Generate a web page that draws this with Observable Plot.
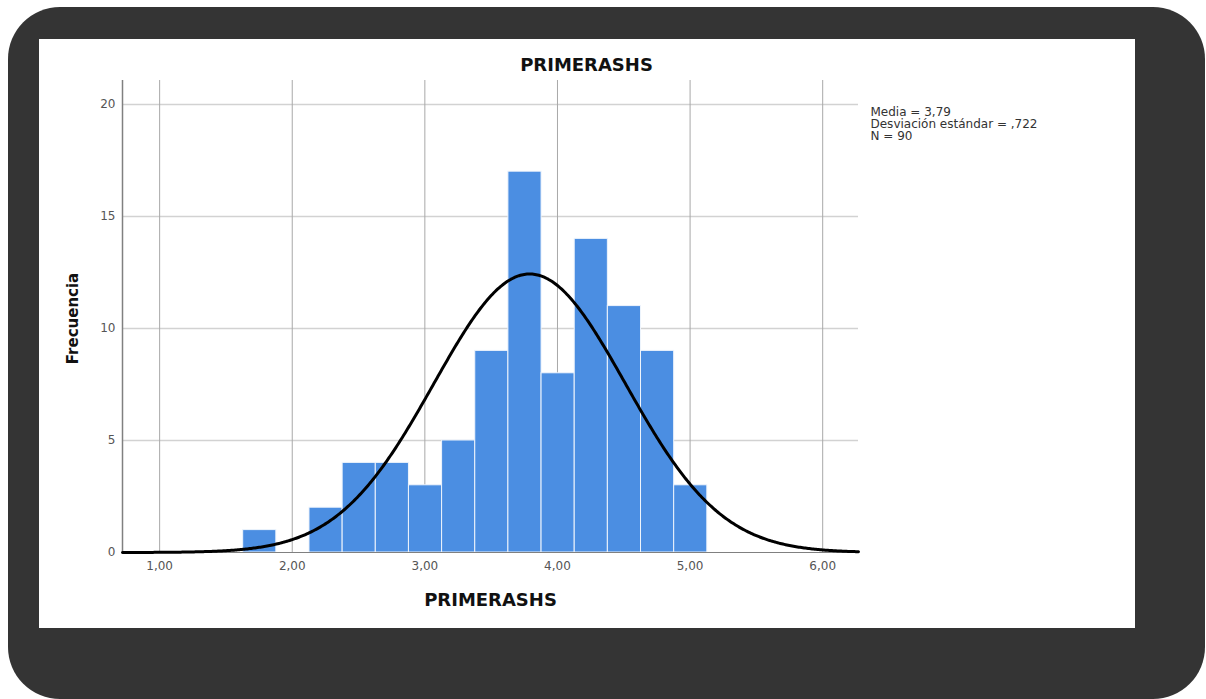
<!DOCTYPE html>
<html>
<head>
<meta charset="utf-8">
<script src="https://cdn.jsdelivr.net/npm/d3@7"></script>
<script src="https://cdn.jsdelivr.net/npm/@observablehq/plot@0.6"></script>
<style>
  html, body { margin: 0; padding: 0; background: #ffffff; }
  #frame { position: absolute; left: 8px; top: 7px; width: 1197px; height: 692px; background: #343434; border-radius: 52px; }
  #panel { position: absolute; left: 39px; top: 39px; width: 1096px; height: 589px; background: #ffffff; }
  #panel svg { position: absolute; left: 0; top: 0; overflow: visible; }
</style>
</head>
<body>
<div id="frame"></div>
<div id="panel"></div>
<script>
// ---- data ----
const chartTitle = "PRIMERASHS";
const xLabel = "PRIMERASHS";
const yLabel = "Frecuencia";
const binLeft = [1.63, 1.88, 2.13, 2.38, 2.63, 2.88, 3.13, 3.38, 3.63, 3.88, 4.13, 4.38, 4.63, 4.88];
const binCount = [1, 0, 2, 4, 4, 3, 5, 9, 17, 8, 14, 11, 9, 3];
const binWidth = 0.25;
const xTicks = [1, 2, 3, 4, 5, 6];
const yTicks = [0, 5, 10, 15, 20];
const statMean = 3.79;
const statSd = 0.722;
const statN = 90;

// ---- derived tables ----
const bars = binLeft.map((x, i) => ({x1: x, x2: x + binWidth, count: binCount[i]})).filter(d => d.count > 0);
const xDomain = [0.72, 6.27];
const curve = d3.range(xDomain[0], xDomain[1] + 0.001, 0.01).map(x => ({
  x,
  y: statN * binWidth * Math.exp(-0.5 * ((x - statMean) / statSd) ** 2) / (statSd * Math.sqrt(2 * Math.PI))
}));
const comma = s => s.replace(".", ",");
const statsText = [
  "Media = " + comma(statMean.toFixed(2)),
  "Desviación estándar = " + comma(statSd.toFixed(3)).replace(/^0/, ""),
  "N = " + statN
].join("\n");

const font = "'DejaVu Sans', 'Liberation Sans', sans-serif";

const chart = Plot.plot({
  width: 1096,
  height: 589,
  marginLeft: 83,
  marginRight: 277,
  marginTop: 41,
  marginBottom: 76,
  style: {background: "transparent", fontFamily: font, fontSize: "12px", color: "#555", overflow: "visible"},
  x: {domain: xDomain, ticks: xTicks, tickFormat: d => comma(d3.format(".2f")(d)), tickSize: 0, tickPadding: 9, label: null},
  y: {domain: [0, 21.07], ticks: yTicks, tickFormat: d3.format("d"), tickSize: 0, tickPadding: 7, label: null},
  marks: [
    Plot.ruleY(yTicks.filter(d => d > 0), {stroke: "#d2d2d2", strokeWidth: 1.5}),
    Plot.ruleX(xTicks, {stroke: "#a8a8a8", strokeWidth: 1}),
    Plot.rectY(bars, {x1: "x1", x2: "x2", y: "count", fill: "#4b8ee2", stroke: "#eef4fc", strokeWidth: 1}),
    Plot.ruleX([xDomain[0]], {stroke: "#808080", strokeWidth: 1.5}),
    Plot.ruleY([0], {stroke: "#808080", strokeWidth: 1}),
    Plot.line(curve, {x: "x", y: "y", stroke: "#000", strokeWidth: 3, curve: "linear"}),
    Plot.text([chartTitle], {text: d => d, frameAnchor: "top", textAnchor: "middle", lineAnchor: "middle", dx: 96, dy: -15, fontSize: 18, fontWeight: "bold", fill: "#111", fontFamily: font}),
    Plot.text([xLabel], {text: d => d, frameAnchor: "bottom", textAnchor: "middle", lineAnchor: "middle", dy: 48, fontSize: 18, fontWeight: "bold", fill: "#111", fontFamily: font}),
    Plot.text([yLabel], {text: d => d, frameAnchor: "left", textAnchor: "middle", lineAnchor: "middle", dx: -49, dy: 2, rotate: -90, fontSize: 15, fontWeight: "bold", fill: "#111", fontFamily: font}),
    Plot.text([statsText], {text: d => d, frameAnchor: "top-right", textAnchor: "start", lineAnchor: "top", dx: 12, dy: 27, lineHeight: 1.0, fontSize: 12, fill: "#333", fontFamily: font})
  ]
});
document.getElementById("panel").appendChild(chart);
</script>
</body>
</html>
